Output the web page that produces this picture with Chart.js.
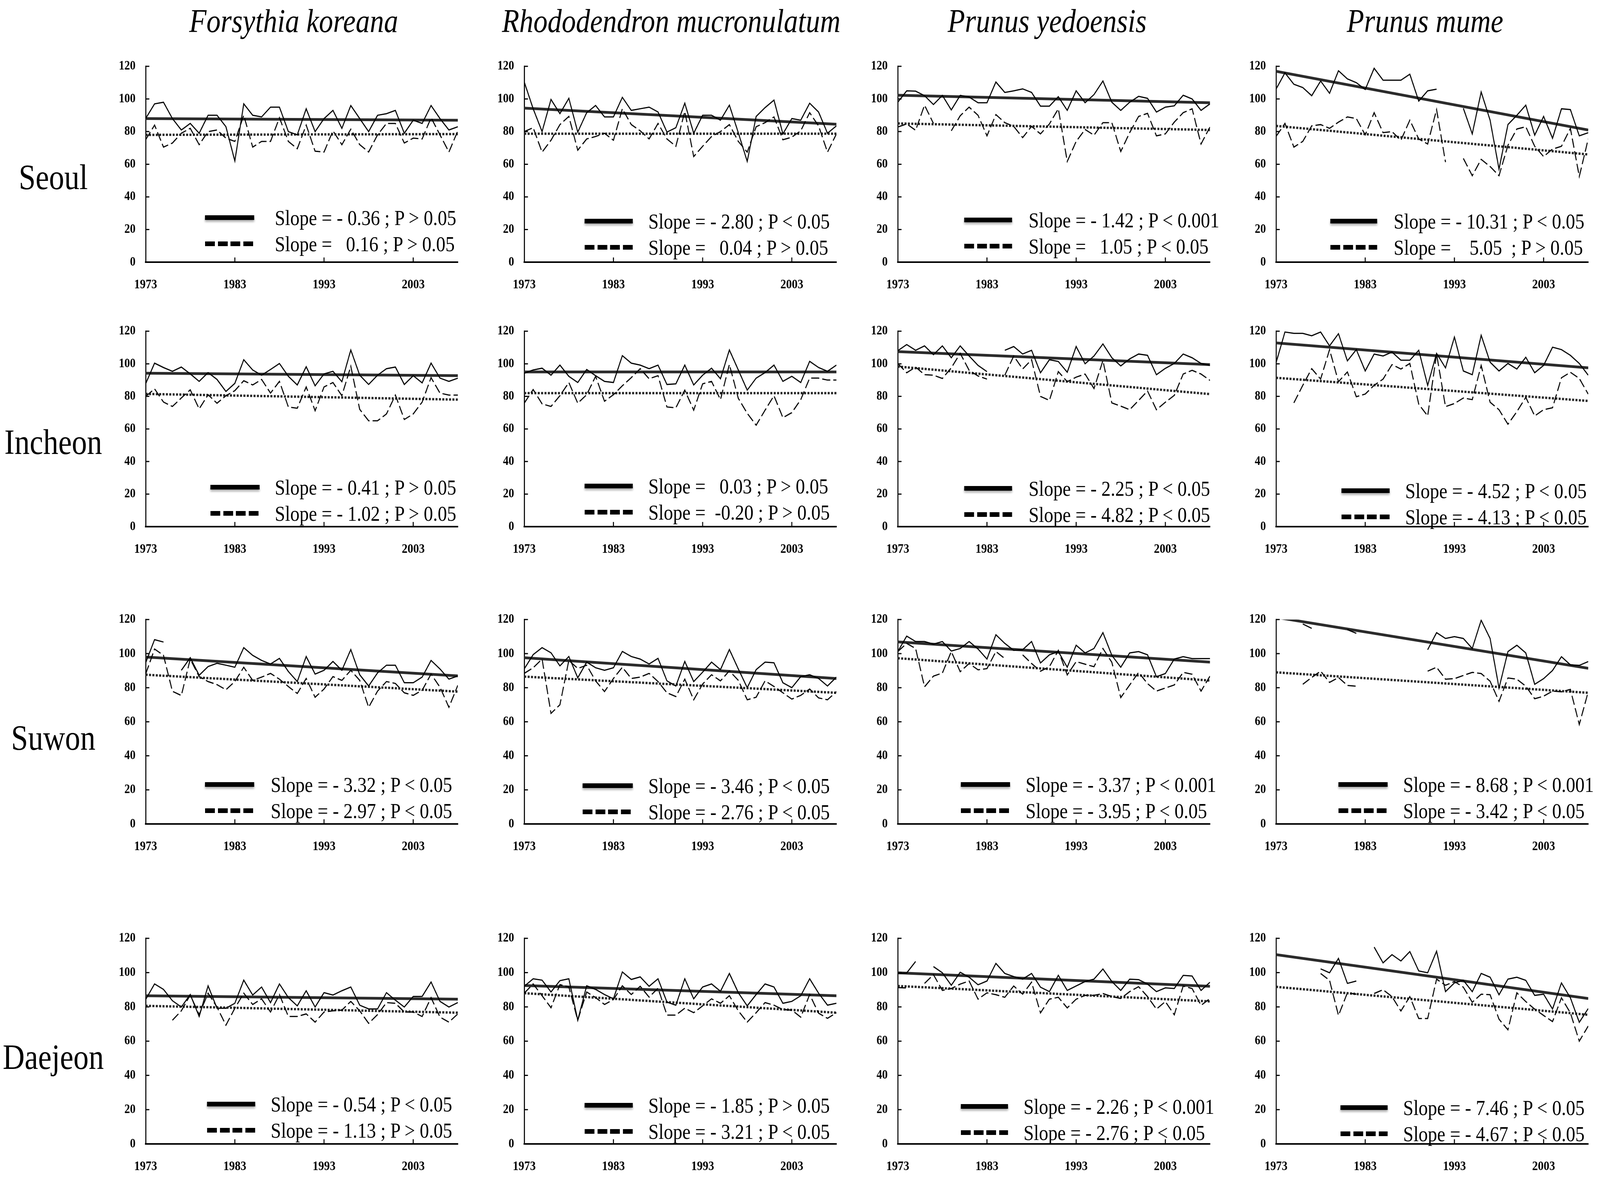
<!DOCTYPE html>
<html><head><meta charset="utf-8">
<script src="https://cdn.jsdelivr.net/npm/chart.js@4.4.1/dist/chart.umd.min.js"></script>
<style>
html,body{margin:0;padding:0;background:#fff;overflow:hidden;}
#root{position:absolute;left:0;top:0;width:4746px;height:3028px;overflow:hidden;background:#fff;transform-origin:0 0;}
canvas{position:absolute;}
.title{position:absolute;font-family:'Liberation Serif',serif;font-style:italic;font-size:84px;line-height:1;white-space:nowrap;transform:translateX(-50%);color:#000;}
.rowlab{position:absolute;font-family:'Liberation Serif',serif;font-size:90px;line-height:1;white-space:nowrap;transform:translateX(-50%);color:#000;}
.lg{position:absolute;font-family:'Liberation Serif',serif;font-size:55px;line-height:1;white-space:pre;color:#000;}
.mk{position:absolute;height:12px;box-shadow:0 5px 6px rgba(0,0,0,0.3);}
</style></head><body><div id="root"></div>
<script>
// ---------------- DATA ----------------
const years = [1973,1974,1975,1976,1977,1978,1979,1980,1981,1982,1983,1984,1985,1986,1987,1988,1989,1990,1991,1992,1993,1994,1995,1996,1997,1998,1999,2000,2001,2002,2003,2004,2005,2006,2007,2008];
const xTickYears = [1973,1983,1993,2003];
const yTickValues = [0,20,40,60,80,100,120];
const species = ['Forsythia koreana','Rhododendron mucronulatum','Prunus yedoensis','Prunus mume'];
const cities = ['Seoul','Incheon','Suwon','Daejeon'];

// Seoul
const seoulForsythiaSolid = [88,97,98,88,81,85,79,90,90,83,62,97,90,89,95,95,80,78,94,80,88,93,82,96,88,80,90,91,93,79,87,85,96,88,81,83];
const seoulForsythiaDashed = [75,84,70.5,73,79,82,72,80,81,76,74,90,70.5,74,74,88.5,74,69.5,84,68,67.5,80.5,72,81.5,72,67.5,78,85,85,73,76,75.5,88.5,78,67.5,80.5];
const seoulForsythiaSolidTrend = [88,87];
const seoulForsythiaDashedTrend = [78,78.5];

const seoulRhodoSolid = [110.4,94,80,99.7,91,100.4,79.7,91.6,96,89,89,101,93,94,95,92,79.7,82.4,97.4,79,90,90,87,96.2,79.3,61.7,89.3,94.7,99.3,78.6,88,87,97.4,92,79,83.5];
const seoulRhodoDashed = [80,82.4,67.4,74.7,84.3,89.3,68.6,75.5,77,79,74.7,94,84.3,80.5,75.5,85,75.5,71,92.4,64.7,71,77,80,84.3,74,67.4,83,85.5,89,75,76.6,80.5,91.6,83.5,67.4,78.6];
const seoulRhodoSolidTrend = [94.4,84.5];
const seoulRhodoDashedTrend = [78.7,78.7];

const seoulYedoSolid = [98,105,104.8,102,96.6,102.2,93.3,102.2,101.2,97.7,97.7,110.4,104,105,106.2,104,95.6,95.6,101.4,93,105,97.7,102.7,111,98,93,98,101.6,100.4,92,95,95.8,102.3,100,93,97];
const seoulYedoDashed = [82.8,84.7,80.8,96.2,85,null,80.5,89.7,95,90,77.4,90.4,85.5,83.2,76.3,83.2,78.6,84.7,94,61.7,74,81.3,77.8,85.5,85.5,67.8,79.4,89.3,91.2,77.4,78.6,85.8,91.6,94,72.4,82.8];
const seoulYedoSolidTrend = [102.3,97.7];
const seoulYedoDashedTrend = [85,81];

const seoulMumeSolid = [106,116,109,107,102,111,103.5,117.3,112.3,110,105.8,118.8,111.5,111.5,111.5,115.2,98.7,105,106,null,null,94.3,78.6,104.3,87,57,84.3,90,96.2,77.8,89.3,75.9,94,93.5,77.4,79.3];
const seoulMumeDashed = [77,85,70.5,74,83.5,84.3,82,85.8,89,88,78,91.6,79.4,80,74.7,87,75.5,72.4,93.5,61.3,null,63.6,53,63,58.6,53,71.6,81.6,83,71,64.7,69.3,71,82,52.5,75.5];
const seoulMumeSolidTrend = [117,81];
const seoulMumeDashedTrend = [83.5,66];

// Incheon
const incheonForsythiaSolid = [87.7,100.4,97.7,95.4,98,93.8,89.2,94.6,90.4,83,88,102.5,96.2,93,96.5,100.2,92.3,87,98.2,86.5,93.8,95.4,89,108.5,93,87.3,93,97,98,87.3,92.7,88.3,100.4,91.2,89.2,91.2];
const incheonForsythiaDashed = [80,84.6,76.5,73.8,79,84,72.3,81,75.8,80.4,83.5,89.6,87,90.4,82,89.2,73.5,72.7,85.8,71.2,85.8,88.5,80.4,98.5,72,65,65,69.2,80.8,65.8,69.2,76.5,91.5,82,80.8,80.8];
const incheonForsythiaSolidTrend = [94.2,92.7];
const incheonForsythiaDashedTrend = [81.5,78];

const incheonRhodoSolid = [94.2,96.2,97.3,93,99.2,92.3,88.5,96.5,92.7,89.2,88.5,105,100.4,99.2,97,99.2,87.3,87.7,99.2,87,93,97.3,90.8,108.5,96.2,83.8,91.2,94.6,99.2,89.2,92.3,88.5,101.5,97.7,95.4,99.2];
const incheonRhodoDashed = [75.8,84.2,75.4,73.8,80.4,88.5,75.8,81,92.3,77,81,86.5,91.5,97,90.8,92.7,73.5,73,83.8,71.5,87.7,89.2,78,99.6,78.8,69.6,62.3,71.5,80.4,66.9,70,78,91.2,91.2,90,90];
const incheonRhodoSolidTrend = [95,95];
const incheonRhodoDashedTrend = [82,82];

const incheonYedoSolid = [108,111.8,108.3,111,105.6,111,103.7,111,104.8,99,95.2,null,108.3,110.6,106,108.3,94.5,102.5,101.4,94.8,110.6,100,104.8,112.2,103.7,98.7,103,106,105.2,93.3,97.2,100.2,106,103.7,100.2,99];
const incheonYedoDashed = [100.2,94.5,98,93.3,93,91,97.5,106.4,96,92.5,90.6,null,93,104.8,96.8,102.5,80,77.5,95.2,89,91.8,93.7,84.8,102,76,74,71.8,77.5,83.3,71.8,76.4,80.6,93.7,96,93.7,89.8];
const incheonYedoSolidTrend = [107.5,99.5];
const incheonYedoDashedTrend = [98.3,81.4];

const incheonMumeSolid = [100.6,119.5,118.7,118.7,117.2,119.5,111,118.5,101.8,108.7,95.6,106,104.8,107.2,102.2,102.2,108.3,86.8,106.4,97.5,116.4,95.6,93.3,117.5,101,95.6,100.2,96.8,104,94.5,99,110.2,108.7,105.2,100.2,93];
const incheonMumeDashed = [null,null,76,86.8,97,90.6,108.7,89,95,79.8,81.4,86.8,90.6,99.5,96.8,100.2,75.2,68,106,73.7,75.6,79,78,99,76.4,71.8,62.9,70.6,79.4,68,71.8,73,91.4,94.8,91,81.4];
const incheonMumeSolidTrend = [112.8,97.5];
const incheonMumeDashedTrend = [91.4,77.2];

// Suwon
const suwonForsythiaSolid = [94.6,108.2,106.8,null,90.2,97.6,87.3,92.4,94.3,93.2,92,103.5,99,96,93.9,97.2,89.5,83.6,98.3,88,90.2,95.4,90.2,102.4,87.6,81,88.7,93.2,93.2,82.9,82.9,86.2,96,91,85,86.9];
const suwonForsythiaDashed = [88,102.7,99,77.9,75.4,96.8,86.5,83.6,81.8,78.8,83.6,92,84.3,86.2,88.4,85,80.7,76.6,85.4,74.4,79.2,86.5,84.3,90.2,84.3,68.5,78,83.6,82.5,77,75.5,78.5,88,80.3,68.5,81.4];
const suwonForsythiaSolidTrend = [98,86.9];
const suwonForsythiaDashedTrend = [87.6,77.7];

const suwonRhodoSolid = [91,99.4,103.5,100.5,92.8,98.3,85.8,95,91.7,90.2,91.7,101.3,98.3,96.8,93.9,97.2,84,81,95.4,83.6,89.1,95,90.6,102.4,91,80,90.6,95,94.6,82.9,80,86.5,87.6,85.4,81,86.2];
const suwonRhodoDashed = [88.4,91.7,96.8,64.9,70,96,91.3,93.2,84,77.7,85.4,92,85.4,86.2,88.4,83.6,77,74.8,85,72.9,82.1,87.6,84,89.9,84.3,72.9,74.4,84,80.7,77,73.3,75.5,79.2,74,72.9,77.7];
const suwonRhodoSolidTrend = [97.6,85.4];
const suwonRhodoDashedTrend = [86.5,77];

const suwonYedoSolid = [101.2,110.3,107.1,107.1,105.6,107.1,101.5,103,107.1,102.7,96.8,111.1,106,101.9,102.3,107.1,94.5,99.3,101.2,92,104.9,100.4,103,112.3,99,92,100.4,101.2,99.3,86.4,88.3,96.8,98.2,97.1,97.1,97.1];
const suwonYedoDashed = [101.2,106,103,80.5,86.8,88.6,101.2,89.4,94.2,90.5,91.2,101.2,97.1,null,99.3,94.2,89.7,92.3,101.9,87.5,95.3,93.8,92.3,103,94.9,74.2,81.6,89,82.4,78,79.8,81.6,89,87.9,78,86.8];
const suwonYedoSolidTrend = [106.9,95];
const suwonYedoDashedTrend = [97.3,84.2];

const suwonMumeSolid = [null,null,null,117.4,114.8,null,null,null,114.1,111.9,null,null,null,null,null,null,null,102.3,112.3,108.9,110,108.9,103,119.6,108.9,79.8,101.2,104.9,100.4,82,85.3,90.1,98.2,93.4,93.1,95.3];
const suwonMumeDashed = [null,null,null,82,86,89.7,83.1,86,81.3,80.9,null,null,null,null,null,null,null,89.7,92,85,85.3,87.2,89,88.3,83.8,72,85.7,85,80.9,73.5,75,78,77.6,79,58.4,77.6];
const suwonMumeSolidTrend = [121.3,91.4];
const suwonMumeDashedTrend = [89,77];

// Daejeon
const daejeonForsythiaSolid = [84.3,93.4,90.2,83.6,79.9,87.2,74.4,92.3,79.2,79.2,82.1,95.6,86.9,91.6,82.5,93.4,85.4,80.6,89.4,79.9,88.3,86.9,89.4,91.6,81,78.8,78.8,88.3,83.9,79.9,86.1,86.1,94.5,83.2,79.9,82.5];
const daejeonForsythiaDashed = [null,null,null,72.2,77.7,86.9,75.5,88,79.9,69.3,79.2,88,81.4,84.7,77,87.2,74.4,74.4,75.9,71.1,77,77.7,78.1,83.2,77.7,70.4,75.5,82.5,82.1,77,77,74.4,85.4,74,71.1,75.9];
const daejeonForsythiaSolidTrend = [86.5,84.5];
const daejeonForsythiaDashedTrend = [80.6,76.6];

const daejeonRhodoSolid = [92,96.4,95.6,88.7,95.3,96.4,72.2,92.3,90.2,87.2,84.7,100.4,96,97.5,92,96.4,82.8,81,96.4,84.7,91.6,93.4,89.1,99.5,88.3,80.6,87.2,93.4,91.6,82.1,83.2,86.5,96.4,88,81,82.1];
const daejeonRhodoDashed = [88,93.4,86.5,79.5,93,91.6,72.2,88.7,85.4,81.4,84.3,92.3,87.2,92,85.7,90.9,75.2,75.2,79.2,76.6,80.6,84.7,82.1,86.5,77.7,71.1,76.6,82.5,81,78.4,78.1,74,87.2,76.3,73.3,76.6];
const daejeonRhodoSolidTrend = [92.5,86.5];
const daejeonRhodoDashedTrend = [88,76.6];

const daejeonYedoSolid = [99.5,99.8,106.5,null,103.5,99.9,92.6,100.2,97.3,92.9,95.1,105.4,99.5,97.7,96.2,99.5,91.5,88.9,98.4,89.6,92.2,94.8,96.2,102.1,94.8,89.6,96.2,95.9,93.3,88.9,91.1,90.7,98.4,98,89.6,94.4];
const daejeonYedoDashed = [91.3,91,null,93.7,98.8,89.6,90.7,93.3,95.1,84.5,88.2,87.1,85.6,92.2,87.4,94.4,76.5,84.5,85.6,79.4,84.5,86.7,86.7,87.8,86,84.9,88.9,91.8,86,78.7,83.1,75.4,92.2,90.7,80.9,84.9];
const daejeonYedoSolidTrend = [99.9,92];
const daejeonYedoDashedTrend = [92.2,83.2];

const daejeonMumeSolid = [null,null,null,null,null,102.2,99.9,108.3,93.7,95.1,null,114.9,105.7,110.5,106.8,112.3,101,99.9,112.5,88.9,94,95.5,88.9,99.5,97.3,87.1,96.2,97.3,95.5,86.7,87.4,78.7,94,85.3,71,79];
const daejeonMumeDashed = [null,null,null,null,null,99.5,95.5,75,88.2,87.4,null,87.8,90,86,77.6,86,73.2,73.2,96.2,92.6,94.8,91.5,82.7,87.4,87.1,72.8,66.6,88.2,83.1,78.7,75,71.4,85.3,76.5,60,68.8];
const daejeonMumeSolidTrend = [110.5,84.9];
const daejeonMumeDashedTrend = [91.7,75.4];

// legend texts [solid, dashed] per panel (row-major)
const legendTexts = [
 ['Slope = - 0.36 ; P > 0.05','Slope =   0.16 ; P > 0.05'],
 ['Slope = - 2.80 ; P < 0.05','Slope =   0.04 ; P > 0.05'],
 ['Slope = - 1.42 ; P < 0.001','Slope =   1.05 ; P < 0.05'],
 ['Slope = - 10.31 ; P < 0.05','Slope =    5.05  ; P > 0.05'],
 ['Slope = - 0.41 ; P > 0.05','Slope = - 1.02 ; P > 0.05'],
 ['Slope =   0.03 ; P > 0.05','Slope =  -0.20 ; P > 0.05'],
 ['Slope = - 2.25 ; P < 0.05','Slope = - 4.82 ; P < 0.05'],
 ['Slope = - 4.52 ; P < 0.05','Slope = - 4.13 ; P < 0.05'],
 ['Slope = - 3.32 ; P < 0.05','Slope = - 2.97 ; P < 0.05'],
 ['Slope = - 3.46 ; P < 0.05','Slope = - 2.76 ; P < 0.05'],
 ['Slope = - 3.37 ; P < 0.001','Slope = - 3.95 ; P < 0.05'],
 ['Slope = - 8.68 ; P < 0.001','Slope = - 3.42 ; P < 0.05'],
 ['Slope = - 0.54 ; P < 0.05','Slope = - 1.13 ; P > 0.05'],
 ['Slope = - 1.85 ; P > 0.05','Slope = - 3.21 ; P < 0.05'],
 ['Slope = - 2.26 ; P < 0.001','Slope = - 2.76 ; P < 0.05'],
 ['Slope = - 7.46 ; P < 0.05','Slope = - 4.67 ; P < 0.05']
];

const panelSeries = [
 [seoulForsythiaSolid,seoulForsythiaDashed,seoulForsythiaSolidTrend,seoulForsythiaDashedTrend],
 [seoulRhodoSolid,seoulRhodoDashed,seoulRhodoSolidTrend,seoulRhodoDashedTrend],
 [seoulYedoSolid,seoulYedoDashed,seoulYedoSolidTrend,seoulYedoDashedTrend],
 [seoulMumeSolid,seoulMumeDashed,seoulMumeSolidTrend,seoulMumeDashedTrend],
 [incheonForsythiaSolid,incheonForsythiaDashed,incheonForsythiaSolidTrend,incheonForsythiaDashedTrend],
 [incheonRhodoSolid,incheonRhodoDashed,incheonRhodoSolidTrend,incheonRhodoDashedTrend],
 [incheonYedoSolid,incheonYedoDashed,incheonYedoSolidTrend,incheonYedoDashedTrend],
 [incheonMumeSolid,incheonMumeDashed,incheonMumeSolidTrend,incheonMumeDashedTrend],
 [suwonForsythiaSolid,suwonForsythiaDashed,suwonForsythiaSolidTrend,suwonForsythiaDashedTrend],
 [suwonRhodoSolid,suwonRhodoDashed,suwonRhodoSolidTrend,suwonRhodoDashedTrend],
 [suwonYedoSolid,suwonYedoDashed,suwonYedoSolidTrend,suwonYedoDashedTrend],
 [suwonMumeSolid,suwonMumeDashed,suwonMumeSolidTrend,suwonMumeDashedTrend],
 [daejeonForsythiaSolid,daejeonForsythiaDashed,daejeonForsythiaSolidTrend,daejeonForsythiaDashedTrend],
 [daejeonRhodoSolid,daejeonRhodoDashed,daejeonRhodoSolidTrend,daejeonRhodoDashedTrend],
 [daejeonYedoSolid,daejeonYedoDashed,daejeonYedoSolidTrend,daejeonYedoDashedTrend],
 [daejeonMumeSolid,daejeonMumeDashed,daejeonMumeSolidTrend,daejeonMumeDashedTrend]
];

// ---------------- LAYOUT (design space 4746 x 3028) ----------------
const DESIGN_W = 4746, DESIGN_H = 3028;
const rowsY = [[150,671],[828,1348],[1566,2109],[2382,2928]];
const colsX = [[432,1358],[1555,2481],[2663,3589],[3785,4711]];
const titleX = [871,1991,3106,4227];
const rowLabelBaseline = [484,1162,1919,2736];
const rowLabelX = 158;
// legend layout per panel: [markLeft, markRight, textLeft, yLine1, yLine2]
const legendPos = [
 [608,754,815,557,624],[1734,1877,1923,566,633],[2860,3002,3051,563,630],[3946,4085,4134,566,633],
 [624,770,815,1247,1314],[1734,1877,1923,1244,1311],[2860,3002,3051,1250,1317],[3979,4122,4168,1256,1323],
 [608,754,803,2008,2075],[1728,1877,1923,2011,2078],[2850,2996,3042,2008,2075],[3970,4116,4162,2008,2075],
 [614,757,803,2826,2893],[1734,1877,1923,2829,2896],[2850,2990,3036,2832,2899],[3976,4116,4162,2835,2902]
];

const root = document.getElementById('root');
// fit the design to the actual window
(function fit(){
  const sx = (window.innerWidth || DESIGN_W) / DESIGN_W;
  const sy = (window.innerHeight || DESIGN_H) / DESIGN_H;
  root.style.transform = 'scale(' + sx + ',' + sy + ')';
})();

const FONT = "'Liberation Serif', 'Times New Roman', serif";

species.forEach((s,i)=>{
  const d=document.createElement('div'); d.className='title'; d.textContent=s;
  d.style.left=titleX[i]+'px'; d.style.top=(82-0.8375*84)+'px'; root.appendChild(d);
});
cities.forEach((c,i)=>{
  const d=document.createElement('div'); d.className='rowlab'; d.textContent=c;
  d.style.left=rowLabelX+'px'; d.style.top=(rowLabelBaseline[i]-0.8375*90)+'px'; root.appendChild(d);
});

const inwardTicks = {
  id:'inwardTicks',
  afterDraw(chart){
    const {ctx, chartArea:a, scales:{x,y}} = chart;
    ctx.save(); ctx.strokeStyle='#000'; ctx.lineWidth=3; ctx.beginPath();
    x.ticks.forEach(t=>{const px=x.getPixelForValue(t.value); if(px>a.left+3){ctx.moveTo(px,a.bottom); ctx.lineTo(px,a.bottom-12);}});
    y.ticks.forEach(t=>{const py=y.getPixelForValue(t.value); ctx.moveTo(a.left,py); ctx.lineTo(a.left+11,py);});
    ctx.stroke(); ctx.restore();
  }
};

const YW=110, PT=30, PR=16, XH=100;
const toPts = arr => arr.map((v,i)=>({x:years[i], y:v}));
const trendPts = tr => [{x:years[0], y:tr[0]},{x:years[years.length-1], y:tr[1]}];

for(let r=0;r<4;r++){
  for(let c=0;c<4;c++){
    const idx=r*4+c;
    const [top,bottom]=rowsY[r], [left,right]=colsX[c];
    const cv=document.createElement('canvas');
    const W=YW+(right-left)+PR, H=PT+(bottom-top)+XH;
    cv.width=W; cv.height=H; cv.style.width=W+'px'; cv.style.height=H+'px';
    cv.style.left=(left-YW)+'px'; cv.style.top=(top-PT)+'px';
    root.appendChild(cv);
    const [sol,das,solT,dasT]=panelSeries[idx];
    new Chart(cv,{
      type:'line',
      data:{datasets:[
        {data:toPts(sol), borderColor:'#000', borderWidth:3, pointRadius:0, tension:0, spanGaps:false},
        {data:toPts(das), borderColor:'#000', borderWidth:3, borderDash:[24,9], pointRadius:0, tension:0, spanGaps:false},
        {data:trendPts(solT), borderColor:'#2b2b2b', borderWidth:7, pointRadius:0},
        {data:trendPts(dasT), borderColor:'#262626', borderWidth:6, borderDash:[6,4], pointRadius:0}
      ]},
      options:{
        responsive:false, animation:false, devicePixelRatio:1,
        layout:{padding:{top:PT,right:PR,left:0,bottom:0}},
        plugins:{legend:{display:false}, tooltip:{enabled:false}},
        scales:{
          x:{type:'linear', min:years[0], max:years[years.length-1],
             afterBuildTicks:s=>{s.ticks=xTickYears.map(v=>({value:v}));},
             afterFit:s=>{s.height=XH;},
             grid:{display:false, drawTicks:false},
             border:{display:true,color:'#000',width:4},
             ticks:{font:{family:FONT,weight:'bold',size:34}, color:'#000', padding:38, maxRotation:0, autoSkip:false, callback:v=>String(v)}},
          y:{min:0,max:120,
             afterBuildTicks:s=>{s.ticks=yTickValues.map(v=>({value:v}));},
             afterFit:s=>{s.width=YW;},
             grid:{display:false, drawTicks:false},
             border:{display:true,color:'#000',width:3},
             ticks:{font:{family:FONT,weight:'bold',size:33}, color:'#000', padding:30, callback:v=>String(v)}}
        }
      },
      plugins:[inwardTicks]
    });
    // legend
    const [mL,mR,tL,y1,y2]=legendPos[idx];
    const m1=document.createElement('div'); m1.className='mk';
    m1.style.left=mL+'px'; m1.style.width=(mR-mL)+'px'; m1.style.top=(y1-6)+'px'; m1.style.background='#000';
    root.appendChild(m1);
    const m2=document.createElement('div'); m2.className='mk';
    m2.style.left=mL+'px'; m2.style.width=(mR-mL)+'px'; m2.style.top=(y2-6)+'px';
    m2.style.background='repeating-linear-gradient(90deg,#000 0 29px,transparent 29px 38px)';
    m2.style.boxShadow='none';
    root.appendChild(m2);
    [[legendTexts[idx][0],y1],[legendTexts[idx][1],y2]].forEach(([t,yc])=>{
      const d=document.createElement('div'); d.className='lg'; d.textContent=t;
      d.style.left=tL+'px'; d.style.top=(yc-27.5)+'px'; root.appendChild(d);
    });
  }
}
</script></body></html>
